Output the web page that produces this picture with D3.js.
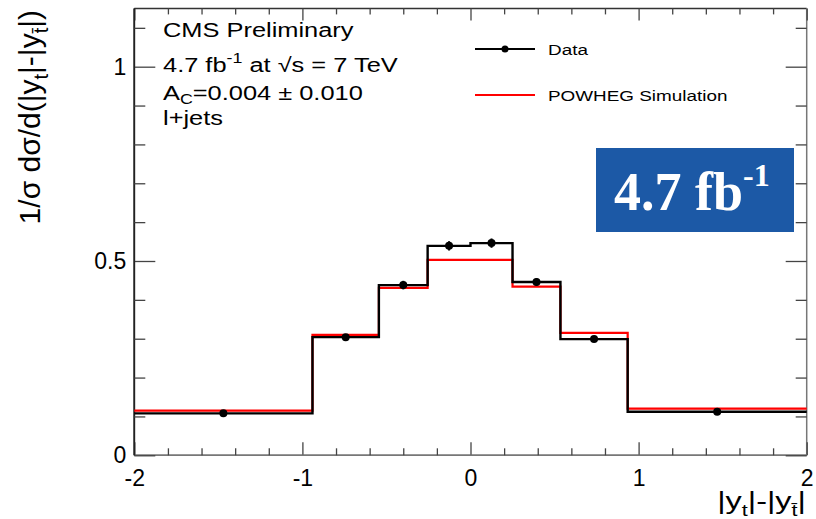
<!DOCTYPE html>
<html><head><meta charset="utf-8">
<script src="https://cdn.jsdelivr.net/npm/d3@7"></script>
<style>body{margin:0;background:#fff}svg{display:block}text{font-family:"Liberation Sans",Arial,sans-serif}</style>
</head><body>
<svg id="c" width="816" height="519"></svg>
<script>
const binEdges = [-2, -0.94, -0.545, -0.255, 0, 0.25, 0.535, 0.935, 2];
const dataValues = [0.108, 0.304, 0.438, 0.539, 0.546, 0.446, 0.299, 0.112];
const dataErrors = [0.005, 0.007, 0.011, 0.012, 0.012, 0.010, 0.007, 0.005];
const powhegValues = [0.115, 0.310, 0.431, 0.503, 0.503, 0.434, 0.315, 0.120];
const xMajorTicks = [-2, -1, 0, 1, 2];
const xTickLabels = ["-2", "-1", "0", "1", "2"];
const yMajorTicks = [0, 0.5, 1];
const yTickLabels = ["0", "0.5", "1"];

const svg = d3.select("#c");
const L = 134.3, R = 806.7, B = 455.3, T = 8.4;
const x = d3.scaleLinear().domain([-2, 2]).range([L, R]);
const y = d3.scaleLinear().domain([0, 1.15]).range([B, T]);

// frame
svg.append("line").attr("x1",L).attr("x2",R).attr("y1",T).attr("y2",T).attr("stroke","#333").attr("stroke-width",1.5);
svg.append("line").attr("x1",R).attr("x2",R).attr("y1",T).attr("y2",B).attr("stroke","#777").attr("stroke-width",1.5);

const xMinor = d3.range(-2, 2.0001, 0.2).map(v => +v.toFixed(2)).filter(v => !xMajorTicks.includes(v));
const yMinor = d3.range(0, 1.1501, 0.1).map(v => +v.toFixed(2)).filter(v => !yMajorTicks.includes(v));

// bottom axis
const gB = svg.append("g").attr("transform",`translate(0,${B})`);
gB.call(d3.axisBottom(x).tickValues(xMajorTicks).tickSize(-13).tickPadding(14).tickFormat((d,i) => xTickLabels[i]));
gB.append("g").call(d3.axisBottom(x).tickValues(xMinor).tickSize(-7).tickFormat(""));
gB.selectAll(".domain").attr("stroke","#777").attr("stroke-width",1.6).attr("d",`M${L},0H${R}`);
gB.selectAll(".tick line").attr("stroke","#444").attr("stroke-width",1.3);
gB.selectAll(".tick text").attr("font-size",23).attr("fill","#000");
// top mirror ticks
const gT = svg.append("g").attr("transform",`translate(0,${T})`);
gT.call(d3.axisTop(x).tickValues(xMajorTicks).tickSize(-12).tickFormat(""));
gT.append("g").call(d3.axisTop(x).tickValues(xMinor).tickSize(-6).tickFormat(""));
gT.selectAll(".domain").remove();
gT.selectAll(".tick line").attr("stroke","#444").attr("stroke-width",1.3);

// left axis
const gL = svg.append("g").attr("transform",`translate(${L},0)`);
gL.call(d3.axisLeft(y).tickValues(yMajorTicks).tickSize(-21).tickPadding(8).tickFormat((d,i) => yTickLabels[i]));
gL.append("g").call(d3.axisLeft(y).tickValues(yMinor).tickSize(-11).tickFormat(""));
gL.selectAll(".domain").attr("stroke","#222").attr("stroke-width",1.6).attr("d",`M0,${T}V${B}`);
gL.selectAll(".tick line").attr("stroke","#444").attr("stroke-width",1.3);
gL.selectAll(".tick text").attr("font-size",23).attr("fill","#000");
// right mirror
const gR = svg.append("g").attr("transform",`translate(${R},0)`);
gR.call(d3.axisRight(y).tickValues(yMajorTicks).tickSize(-21).tickFormat(""));
gR.append("g").call(d3.axisRight(y).tickValues(yMinor).tickSize(-11).tickFormat(""));
gR.selectAll(".domain").remove();
gR.selectAll(".tick line").attr("stroke","#444").attr("stroke-width",1.3);

// histograms
function stepPts(vals){ const p = vals.map((v,i)=>[binEdges[i], v]); p.push([binEdges[binEdges.length-1], vals[vals.length-1]]); return p; }
const line = d3.line().x(d=>x(d[0])).y(d=>y(d[1])).curve(d3.curveStepAfter);
svg.append("path").attr("d", line(stepPts(powhegValues))).attr("fill","none").attr("stroke","#ff0000").attr("stroke-width",2.2);
svg.append("path").attr("d", line(stepPts(dataValues))).attr("fill","none").attr("stroke","#000").attr("stroke-width",2.4);

// data points
const centers = dataValues.map((v,i)=>(binEdges[i]+binEdges[i+1])/2);
const pts = svg.append("g");
dataValues.forEach((v,i)=>{
  pts.append("line").attr("x1",x(centers[i])).attr("x2",x(centers[i])).attr("y1",y(v-dataErrors[i])).attr("y2",y(v+dataErrors[i])).attr("stroke","#000").attr("stroke-width",2);
  pts.append("circle").attr("cx",x(centers[i])).attr("cy",y(v)).attr("r",4).attr("fill","#000");
});

// axis titles
const yt = svg.append("text").attr("transform","translate(40,10) rotate(-90)").attr("text-anchor","end").attr("font-size",30);
yt.append("tspan").text("1/σ dσ/d(|y");
yt.append("tspan").attr("font-size",20).attr("dy",8).text("t");
yt.append("tspan").attr("dy",-8).text("|-|y");
yt.append("tspan").attr("font-size",20).attr("dy",8).text("t\u0304");
yt.append("tspan").attr("dy",-8).text("|)");

const xtg = svg.append("g").attr("transform","translate(806,509) scale(1.35,1)");
const xt = xtg.append("text").attr("text-anchor","end").attr("font-size",24);
xt.append("tspan").text("|y");
xt.append("tspan").attr("font-size",16).attr("dy",7).text("t");
xt.append("tspan").attr("dy",-7).text("|-|y");
xt.append("tspan").attr("font-size",16).attr("dy",7).text("t\u0304");
xt.append("tspan").attr("dy",-7).text("|");

// info text (horizontally stretched like the reference)
const info = svg.append("g").attr("transform","translate(163,0) scale(1.27,1)");
info.append("text").attr("y",37).attr("font-size",20).text("CMS Preliminary");
const l2 = info.append("text").attr("y",72).attr("font-size",20);
l2.append("tspan").text("4.7 fb");
l2.append("tspan").attr("font-size",14).attr("dy",-9).text("-1");
l2.append("tspan").attr("dy",9).text(" at √s = 7 TeV");
const l3 = info.append("text").attr("y",100).attr("font-size",20);
l3.append("tspan").text("A");
l3.append("tspan").attr("font-size",14).attr("dy",4).text("C");
l3.append("tspan").attr("dy",-4).text("=0.004 ± 0.010");
info.append("text").attr("y",125).attr("font-size",20).text("l+jets");

// legend
svg.append("line").attr("x1",475).attr("x2",535).attr("y1",49).attr("y2",49).attr("stroke","#000").attr("stroke-width",2);
svg.append("circle").attr("cx",505).attr("cy",49).attr("r",3.5).attr("fill","#000");
svg.append("line").attr("x1",475).attr("x2",535).attr("y1",95).attr("y2",95).attr("stroke","#ff0000").attr("stroke-width",2);
const leg = svg.append("g").attr("transform","translate(548,0) scale(1.26,1)");
leg.append("text").attr("y",55).attr("font-size",15).text("Data");
leg.append("text").attr("y",101).attr("font-size",15).text("POWHEG Simulation");

// blue box
svg.append("rect").attr("x",596).attr("y",148).attr("width",198).attr("height",84).attr("fill","#1c59a6");
const bt = svg.append("text").attr("x",614).attr("y",210).style("font-family","'Liberation Serif','Times New Roman',serif").attr("font-weight","bold").attr("font-size",54).attr("fill","#fff");
bt.append("tspan").text("4.7 fb");
bt.append("tspan").attr("font-size",32).attr("dy",-24).text("-1");
</script>
</body></html>
